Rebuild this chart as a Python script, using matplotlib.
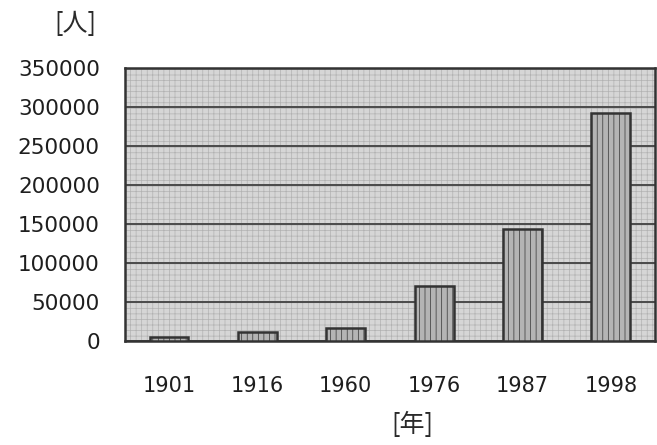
import matplotlib
matplotlib.use("Agg")
import matplotlib.pyplot as plt
from matplotlib.patches import Rectangle
import numpy as np

years = ["1901", "1916", "1960", "1976", "1987", "1998"]
people = [5000, 11000, 17000, 70000, 143000, 293000]
y_ticks = [0, 50000, 100000, 150000, 200000, 250000, 300000, 350000]

plt.rcParams["hatch.linewidth"] = 0.5

fig = plt.figure(figsize=(6.57, 4.45), dpi=100)
fig.patch.set_facecolor("white")
ax = fig.add_axes([0.190, 0.234, 0.807, 0.613])

# grainy screen-tone background, drawn as a hatched rectangle
ax.patch.set_facecolor("#d3d3d3")
ax.add_patch(Rectangle((0, 0), 1, 1, transform=ax.transAxes,
                       facecolor="#d6d6d6", edgecolor="#b2b2b2",
                       linewidth=0, hatch="+++", zorder=0))

x = np.arange(len(years))
ax.set_axisbelow(True)
ax.yaxis.grid(True, color="#4a4a4a", linewidth=1.4, zorder=1)
ax.bar(x, people, width=0.44, color="#b4b4b4", edgecolor="#333333",
       linewidth=1.8, hatch="|||", zorder=3)

ax.set_xlim(-0.5, len(years) - 0.5)
ax.set_ylim(0, 350000)
ax.set_yticks(y_ticks)
ax.set_yticklabels([str(v) for v in y_ticks], family="DejaVu Sans",
                   fontsize=15.5, color="#1e1e1e")
ax.set_xticks(x)
ax.set_xticklabels(years, family="DejaVu Sans", fontsize=15, color="#1e1e1e")

for s in ax.spines.values():
    s.set_color("#333333")
    s.set_linewidth(1.8)

ax.tick_params(axis="both", length=0)
ax.tick_params(axis="y", pad=18)
ax.tick_params(axis="x", pad=25)

cjk = ["Noto Sans CJK JP", "DejaVu Sans"]
fig.text(0.115, 0.945, "[人]", family=cjk, fontsize=18, ha="center",
         va="center", color="#2a2a2a")
fig.text(0.628, 0.045, "[年]", family=cjk, fontsize=18, ha="center",
         va="center", color="#2a2a2a")

fig.savefig("out.png", dpi=100)
